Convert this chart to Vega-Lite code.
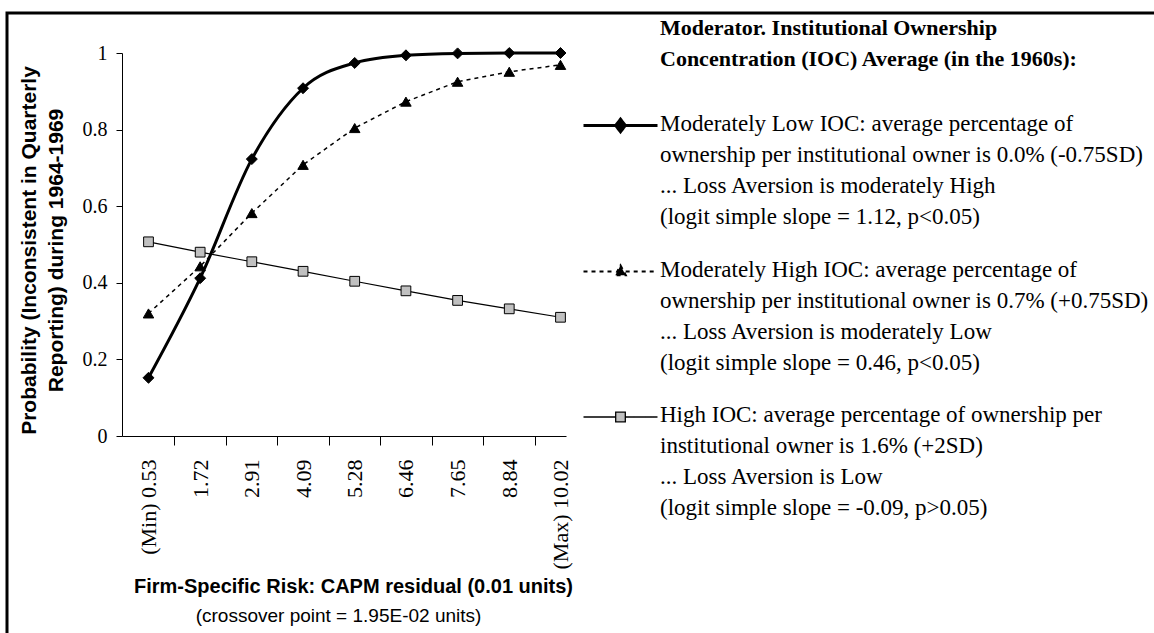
{
  "$schema": "https://vega.github.io/schema/vega-lite/v6.json",
  "width": 1147,
  "height": 620,
  "autosize": {"type": "none"},
  "padding": {"left": 7, "top": 13, "right": 0, "bottom": 0},
  "background": "white",
  "view": {"stroke": "black", "strokeWidth": 3, "strokeDash": [1147, 1767, 640]},
  "config": {
    "axis": {"grid": false, "domainColor": "black", "tickColor": "black", "labelColor": "black", "titleColor": "black", "domainWidth": 1, "tickWidth": 1}
  },
  "data": {
    "values": [
      {"risk": 0.53, "series": "Moderately Low IOC", "p": 0.152},
      {"risk": 1.72, "series": "Moderately Low IOC", "p": 0.412},
      {"risk": 2.91, "series": "Moderately Low IOC", "p": 0.723},
      {"risk": 4.09, "series": "Moderately Low IOC", "p": 0.908},
      {"risk": 5.28, "series": "Moderately Low IOC", "p": 0.974},
      {"risk": 6.46, "series": "Moderately Low IOC", "p": 0.994},
      {"risk": 7.65, "series": "Moderately Low IOC", "p": 0.999},
      {"risk": 8.84, "series": "Moderately Low IOC", "p": 1.0},
      {"risk": 10.02, "series": "Moderately Low IOC", "p": 1.0},
      {"risk": 0.53, "series": "Moderately High IOC", "p": 0.32},
      {"risk": 1.72, "series": "Moderately High IOC", "p": 0.443},
      {"risk": 2.91, "series": "Moderately High IOC", "p": 0.582},
      {"risk": 4.09, "series": "Moderately High IOC", "p": 0.708},
      {"risk": 5.28, "series": "Moderately High IOC", "p": 0.804},
      {"risk": 6.46, "series": "Moderately High IOC", "p": 0.873},
      {"risk": 7.65, "series": "Moderately High IOC", "p": 0.925},
      {"risk": 8.84, "series": "Moderately High IOC", "p": 0.951},
      {"risk": 10.02, "series": "Moderately High IOC", "p": 0.969},
      {"risk": 0.53, "series": "High IOC", "p": 0.507},
      {"risk": 1.72, "series": "High IOC", "p": 0.48},
      {"risk": 2.91, "series": "High IOC", "p": 0.455},
      {"risk": 4.09, "series": "High IOC", "p": 0.43},
      {"risk": 5.28, "series": "High IOC", "p": 0.404},
      {"risk": 6.46, "series": "High IOC", "p": 0.379},
      {"risk": 7.65, "series": "High IOC", "p": 0.354},
      {"risk": 8.84, "series": "High IOC", "p": 0.332},
      {"risk": 10.02, "series": "High IOC", "p": 0.31}
    ]
  },
  "layer": [
    {
      "transform": [{"filter": "datum.series == 'Moderately High IOC'"}],
      "mark": {"type": "line", "interpolate": "linear", "color": "black", "strokeWidth": 1.5, "strokeDash": [4, 4]},
      "encoding": {
        "x": {
          "field": "risk", "type": "quantitative",
          "scale": {"domain": [-0.0804, 10.147], "range": [115, 559], "nice": false, "zero": false},
          "axis": {
            "orient": "bottom", "offset": -197,
            "values": [0.53, 1.72, 2.91, 4.09, 5.28, 6.46, 7.65, 8.84, 10.02],
            "ticks": false, "tickSize": 0, "domain": true,
            "labelAngle": 270, "labelAlign": "right", "labelBaseline": "middle",
            "labelPadding": 23, "labelFont": "Liberation Serif", "labelFontSize": 22,
            "labelFlush": false, "labelOverlap": false, "labelBound": false,
            "format": ".2f",
            "labelExpr": "datum.value < 1 ? '(Min) ' + datum.label : (datum.value > 10 ? '(Max) ' + datum.label : datum.label)",
            "title": "Firm-Specific Risk: CAPM residual (0.01 units)",
            "titleFont": "Liberation Sans", "titleFontSize": 20, "titleFontWeight": "bold",
            "titleX": 346, "titleY": 156, "titleBaseline": "alphabetic", "titleAlign": "center", "titleAngle": 0
          }
        },
        "y": {
          "field": "p", "type": "quantitative",
          "scale": {"domain": [0, 1], "range": [423, 40], "nice": false, "zero": false},
          "axis": {
            "orient": "left", "offset": -115,
            "values": [0, 0.2, 0.4, 0.6, 0.8, 1],
            "format": ".1~f",
            "tickSize": 6, "labelPadding": 9,
            "labelFont": "Liberation Serif", "labelFontSize": 20,
            "title": ["Probability (Inconsistent in Quarterly", "Reporting) during 1964-1969"],
            "titleFont": "Liberation Sans", "titleFontSize": 21, "titleFontWeight": "bold",
            "titleLineHeight": 27, "titleAngle": 270, "titleBaseline": "bottom", "titleAlign": "center",
            "titleX": -83, "titleY": 237
          }
        }
      }
    },
    {
      "transform": [{"filter": "datum.series == 'High IOC'"}],
      "mark": {"type": "line", "interpolate": "linear", "color": "black", "strokeWidth": 1.2},
      "encoding": {
        "x": {"field": "risk", "type": "quantitative", "axis": null},
        "y": {"field": "p", "type": "quantitative"}
      }
    },
    {
      "transform": [{"filter": "datum.series == 'Moderately Low IOC'"}],
      "mark": {"type": "line", "interpolate": "monotone", "color": "black", "strokeWidth": 3},
      "encoding": {
        "x": {"field": "risk", "type": "quantitative", "axis": null},
        "y": {"field": "p", "type": "quantitative"}
      }
    },
    {
      "transform": [{"filter": "datum.series == 'Moderately High IOC'"}],
      "mark": {"type": "point", "shape": "triangle-up", "filled": true, "fill": "black", "stroke": "black", "strokeWidth": 1, "size": 110, "opacity": 1},
      "encoding": {
        "x": {"field": "risk", "type": "quantitative", "axis": null},
        "y": {"field": "p", "type": "quantitative"}
      }
    },
    {
      "transform": [{"filter": "datum.series == 'High IOC'"}],
      "mark": {"type": "point", "shape": "square", "filled": true, "fill": "#c0c0c0", "stroke": "black", "strokeWidth": 1, "size": 95, "opacity": 1},
      "encoding": {
        "x": {"field": "risk", "type": "quantitative", "axis": null},
        "y": {"field": "p", "type": "quantitative"}
      }
    },
    {
      "transform": [{"filter": "datum.series == 'Moderately Low IOC'"}],
      "mark": {"type": "point", "shape": "diamond", "filled": true, "fill": "black", "stroke": "black", "strokeWidth": 1, "size": 120, "opacity": 1},
      "encoding": {
        "x": {
          "field": "risk", "type": "quantitative",
          "axis": {
            "orient": "bottom", "offset": -197,
            "values": [1.125, 2.315, 3.5, 4.685, 5.87, 7.055, 8.245, 9.43],
            "labels": false, "ticks": true, "tickSize": 9, "domain": false,
            "title": "(crossover point = 1.95E-02 units)",
            "titleFont": "Liberation Sans", "titleFontSize": 19, "titleFontWeight": "normal",
            "titleX": 331, "titleY": 185, "titleBaseline": "alphabetic", "titleAlign": "center", "titleAngle": 0
          }
        },
        "y": {"field": "p", "type": "quantitative"}
      }
    },
    {
      "mark": {"type": "point", "filled": true, "stroke": "black", "opacity": 0},
      "encoding": {
        "x": {"field": "risk", "type": "quantitative", "axis": null},
        "y": {"field": "p", "type": "quantitative"},
        "fill": {
          "field": "series", "type": "nominal",
          "scale": {"domain": ["Moderately Low IOC", "Moderately High IOC", "High IOC"], "range": ["black", "black", "#c0c0c0"]},
          "legend": {
            "orient": "none", "legendX": 575, "legendY": 5, "direction": "vertical",
            "padding": 0,
            "title": ["Moderator.  Institutional Ownership", "Concentration (IOC) Average (in the 1960s):"],
            "titleFont": "Liberation Serif", "titleFontSize": 22, "titleFontWeight": "bold", "titleColor": "black",
            "titleLineHeight": 31, "titleLimit": 700, "titleBaseline": "top", "titlePadding": 16,
            "labelFont": "Liberation Serif", "labelFontSize": 23, "labelColor": "black", "labelLimit": 700,
            "labelOffset": 3, "labelBaseline": "alphabetic",
            "symbolSize": 5476, "symbolOpacity": 1, "symbolStrokeColor": "black", "rowPadding": 4,
            "labelExpr": "datum.value == 'Moderately Low IOC' ? ['Moderately Low IOC: average percentage of', 'ownership per institutional owner is 0.0% (-0.75SD)', '... Loss Aversion is moderately High', '(logit simple slope = 1.12, p<0.05)'] : (datum.value == 'Moderately High IOC' ? ['Moderately High IOC: average percentage of', 'ownership per institutional owner is 0.7% (+0.75SD)', '... Loss Aversion is moderately Low', '(logit simple slope = 0.46, p<0.05)'] : ['High IOC: average percentage of ownership per', 'institutional owner is 1.6% (+2SD)', '... Loss Aversion is Low', '(logit simple slope = -0.09, p>0.05)'])",
            "encode": {
              "title": {"update": {"dx": {"value": 78}}},
              "labels": {"update": {"lineHeight": {"value": 31}, "x": {"value": 78}, "dy": {"value": 5}}}
            }
          }
        },
        "shape": {
          "field": "series", "type": "nominal",
          "scale": {
            "domain": ["Moderately Low IOC", "Moderately High IOC", "High IOC"],
            "range": [
              "M-1,0L1,0M0,-0.17L0.13,0L0,0.17L-0.13,0Z",
              "M-1,0L-0.14,0M0.14,0L1,0M0,-0.16L0.14,0.1L-0.14,0.1Z",
              "M-1,0L-0.13,0M0.13,0L1,0M-0.13,-0.13L0.13,-0.13L0.13,0.13L-0.13,0.13Z"
            ]
          }
        },
        "strokeWidth": {
          "field": "series", "type": "nominal",
          "scale": {"domain": ["Moderately Low IOC", "Moderately High IOC", "High IOC"], "range": [3, 1.3, 1.3]}
        },
        "strokeDash": {
          "field": "series", "type": "nominal",
          "scale": {"domain": ["Moderately Low IOC", "Moderately High IOC", "High IOC"], "range": [[1, 0], [4, 4], [1, 0]]}
        }
      }
    }
  ],
  "resolve": {"axis": {"x": "independent"}}
}
